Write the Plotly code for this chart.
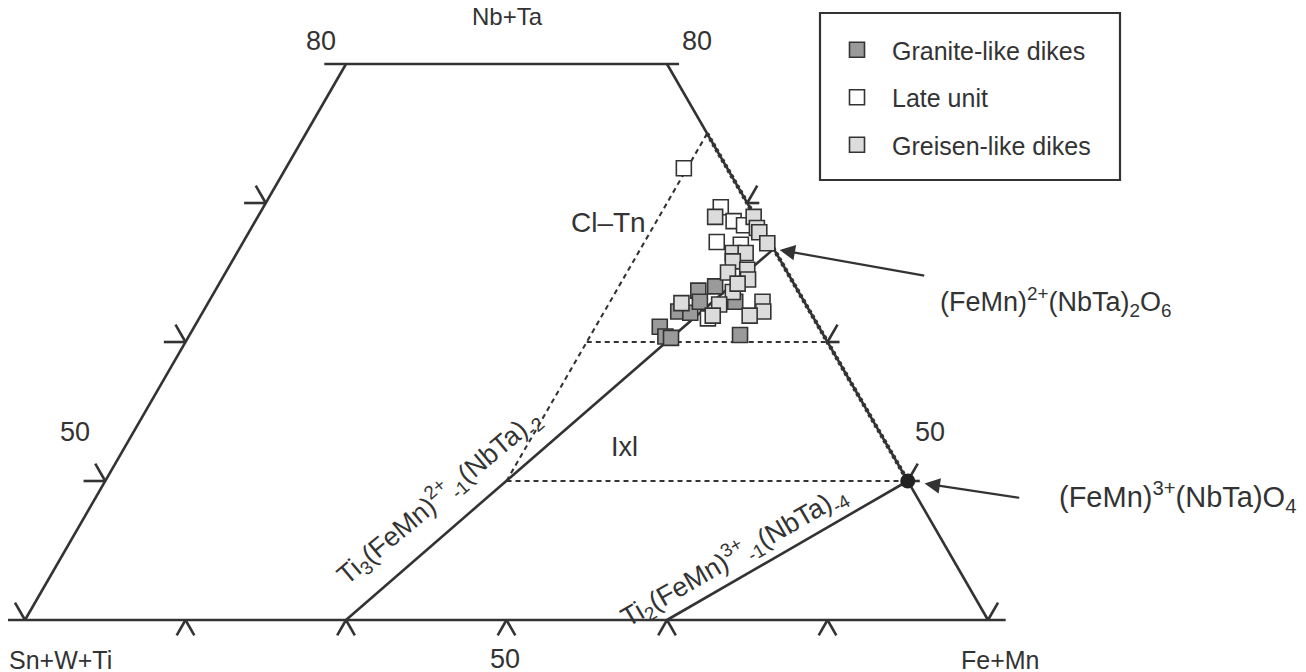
import numpy as np
import plotly.graph_objects as go

# ---------------- data ----------------
# ternary compositions (atomic %): Nb+Ta, Fe+Mn, Sn+W+Ti ; diagram shows Nb+Ta 40..80
series_names = ["Granite-like dikes", "Late unit", "Greisen-like dikes"]

granite_nbta = [63.7, 64.0, 62.9, 62.2, 62.1, 62.9, 61.1, 60.4, 60.3, 60.5]
granite_femn = [30.1, 31.0, 32.8, 29.6, 30.4, 30.6, 29.0, 29.7, 30.1, 34.3]
granite_snwti = [6.2, 5.0, 4.3, 8.2, 7.5, 6.5, 9.9, 9.9, 9.6, 5.2]

late_nbta = [72.5, 69.7, 68.7, 67.2, 68.4, 67.0, 61.7]
late_femn = [24.8, 28.5, 29.8, 29.5, 30.6, 31.1, 31.7]
late_snwti = [2.7, 1.8, 1.5, 3.3, 1.0, 1.9, 6.6]

greisen_nbta = [69.0, 69.0, 68.2, 67.9, 67.1, 66.4, 66.4, 65.8, 65.2, 65.0,
                63.6, 62.7, 61.9, 62.8, 62.9, 62.2, 61.9, 64.5, 64.2]
greisen_femn = [28.5, 30.9, 31.5, 31.8, 32.7, 30.9, 31.7, 31.2, 32.4, 31.3,
                32.3, 31.9, 31.9, 29.5, 34.5, 34.9, 34.2, 32.8, 32.3]
greisen_snwti = [2.5, 0.1, 0.3, 0.3, 0.2, 2.7, 1.9, 3.0, 2.4, 3.7,
                 4.1, 5.4, 6.2, 7.7, 2.6, 2.9, 3.9, 2.7, 3.5]

# end-member compositions (Nb+Ta, Fe+Mn, Sn+W+Ti)
columbite = (66.7, 33.3, 0.0)          # (FeMn)2+(NbTa)2O6
fe3_phase = (50.0, 50.0, 0.0)          # (FeMn)3+(NbTa)O4
ti3_start = (40.0, 20.0, 40.0)         # Ti3(FeMn)-1(NbTa)-2 vector, base
ti2_start = (40.0, 40.0, 20.0)         # Ti2(FeMn)-1(NbTa)-4 vector, base

# field boundaries (dashed)
cltn_line = [(50.0, 25.0, 25.0), (75.0, 25.0, 0.0)]
nbta60_line = [(60.0, 25.0, 15.0), (60.0, 40.0, 0.0)]
nbta50_line = [(50.0, 25.0, 25.0), (50.0, 50.0, 0.0)]
edge_field_line = [(75.0, 25.0, 0.0), (50.0, 50.0, 0.0)]

# diagram range and ticks
NBTA_MIN, NBTA_MAX = 40.0, 80.0
side_ticks = [40, 50, 60, 70, 80]
bottom_ticks = [10, 20, 30, 40, 50]

# ---------------- helpers ----------------
SPAN = 100.0 - NBTA_MIN
H = np.sqrt(3) / 2


def to_xy(a, b):
    ap = (np.asarray(a, float) - NBTA_MIN) / SPAN
    bp = np.asarray(b, float) / SPAN
    return bp + ap / 2, ap * H


def segs(seg_list):
    xs, ys = [], []
    for (a1, b1), (a2, b2) in seg_list:
        x, y = to_xy([a1, a2], [b1, b2])
        xs += list(x) + [None]
        ys += list(y) + [None]
    return xs, ys


LINE = "#333333"
TL_H, TR_H, T_DIAG, T_BOT = 1.35, 0.75, 1.25, 1.1

frame = []
top_b_right = 100 - NBTA_MAX
frame.append(((NBTA_MIN, -T_BOT), (NBTA_MIN, SPAN + T_BOT)))   # base line
frame.append(((NBTA_MIN, 0), (NBTA_MAX, 0)))                    # left edge
frame.append(((NBTA_MIN, SPAN), (NBTA_MAX, top_b_right)))       # right edge
frame.append(((NBTA_MAX, -TL_H), (NBTA_MAX, top_b_right + TR_H)))  # top edge
for A in side_ticks:
    if NBTA_MIN < A < NBTA_MAX:
        frame.append(((A, 0), (A, -TL_H)))
        frame.append(((A, 100 - A), (A, 100 - A + TR_H)))
    if A < NBTA_MAX:
        frame.append(((A, 0), (A + T_DIAG, -T_DIAG)))
        frame.append(((A, 100 - A), (A + T_DIAG, 100 - A)))
for B in bottom_ticks:
    frame.append(((NBTA_MIN, B), (NBTA_MIN - T_BOT, B)))
    frame.append(((NBTA_MIN, B), (NBTA_MIN - T_BOT, B + T_BOT)))

fig = go.Figure()

# dashed field boundaries
dx, dy = segs([((p[0][0], p[0][1]), (p[1][0], p[1][1]))
               for p in (cltn_line, nbta60_line, nbta50_line)])
fig.add_trace(go.Scatter(x=dx, y=dy, mode="lines", showlegend=False, hoverinfo="skip",
                         line=dict(color=LINE, width=2.1, dash="5px,4px")))
ex, ey = segs([((edge_field_line[0][0], edge_field_line[0][1]),
                (edge_field_line[1][0], edge_field_line[1][1]))])
fig.add_trace(go.Scatter(x=ex, y=ey, mode="lines", showlegend=False, hoverinfo="skip",
                         line=dict(color=LINE, width=4.2, dash="3px,3px")))

# frame with ticks
fx, fy = segs(frame)
fig.add_trace(go.Scatter(x=fx, y=fy, mode="lines", showlegend=False, hoverinfo="skip",
                         line=dict(color=LINE, width=2.6)))

# substitution vectors
vx, vy = segs([((ti3_start[0], ti3_start[1]), (columbite[0], columbite[1])),
               ((ti2_start[0], ti2_start[1]), (fe3_phase[0], fe3_phase[1]))])
fig.add_trace(go.Scatter(x=vx, y=vy, mode="lines", showlegend=False, hoverinfo="skip",
                         line=dict(color=LINE, width=2.6)))

# (FeMn)3+(NbTa)O4 point
px_, py_ = to_xy([fe3_phase[0]], [fe3_phase[1]])
fig.add_trace(go.Scatter(x=px_, y=py_, mode="markers", showlegend=False, hoverinfo="skip",
                         marker=dict(symbol="circle", size=15, color="#222222")))

# samples
sample_sets = [
    ("Late unit", late_nbta, late_femn, late_snwti, "#ffffff", 2),
    ("Granite-like dikes", granite_nbta, granite_femn, granite_snwti, "#9a9a9a", 1),
    ("Greisen-like dikes", greisen_nbta, greisen_femn, greisen_snwti, "#dcdcdc", 3),
]
for name, a, b, c, col, rank in sample_sets:
    x, y = to_xy(a, b)
    fig.add_trace(go.Scatter(
        x=x, y=y, mode="markers", name=name, legendrank=rank, legendgroup=name,
        customdata=np.stack([a, b, c], axis=1),
        hovertemplate="Nb+Ta %{customdata[0]}<br>Fe+Mn %{customdata[1]}<br>Sn+W+Ti %{customdata[2]}<extra>" + name + "</extra>",
        marker=dict(symbol="square", size=15, color=col, line=dict(color=LINE, width=1.6))))

FONT = "Liberation Sans, Arial, sans-serif"
OFF = 8                      # page body margin in the browser
W, HH = 1306 - OFF, 672 - OFF


def X(px):
    return (px - OFF) / W


def Y(py):
    return 1 - (py - OFF) / HH


def ann(text, px, py, size=27, angle=0):
    return dict(text=text, x=X(px), y=Y(py), xref="paper", yref="paper",
                showarrow=False, textangle=angle, xanchor="center", yanchor="middle",
                font=dict(family=FONT, size=size, color="#333333"))


annotations = [
    ann("Nb+Ta", 507, 17, size=24),
    ann("80", 321, 41), ann("80", 697, 41),
    ann("50", 75, 432), ann("50", 930, 432), ann("50", 505, 659),
    ann("Sn+W+Ti", 61, 660, size=25), ann("Fe+Mn", 1000, 660, size=25),
    ann("Cl–Tn", 608, 222, size=28), ann("Ixl", 624, 447),
    ann("(FeMn)<sup>2+</sup>(NbTa)<sub>2</sub>O<sub>6</sub>", 1056, 302, size=27),
    ann("(FeMn)<sup>3+</sup>(NbTa)O<sub>4</sub>", 1177, 497, size=29),
    ann("Ti<sub>3</sub>(FeMn)<sup>2+</sup><sub>-1</sub>(NbTa)<sub>-2</sub>", 438, 497, angle=-40),
    ann("Ti<sub>2</sub>(FeMn)<sup>3+</sup><sub>-1</sub>(NbTa)<sub>-4</sub>", 733, 556, angle=-30),
]
cx, cy = to_xy([columbite[0]], [columbite[1]])
annotations.append(dict(x=float(cx[0]), y=float(cy[0]), xref="x", yref="y", text="",
                        showarrow=True, ax=152, ay=27, arrowhead=2, arrowsize=1.4,
                        arrowwidth=2.2, arrowcolor=LINE, standoff=6))
annotations.append(dict(x=float(px_[0]), y=float(py_[0]), xref="x", yref="y", text="",
                        showarrow=True, ax=113, ay=17, arrowhead=2, arrowsize=1.4,
                        arrowwidth=2.2, arrowcolor=LINE, standoff=17))

PXU = 963.0
X0, Y0 = 25 - OFF, 620 - OFF   # pixel position of Sn+W+Ti corner
fig.update_layout(
    width=W, height=HH, margin=dict(l=0, r=0, t=0, b=0),
    paper_bgcolor="white", plot_bgcolor="white",
    xaxis=dict(range=[-X0 / PXU, (W - X0) / PXU], visible=False, fixedrange=True),
    yaxis=dict(range=[-(HH - Y0) / PXU, Y0 / PXU], visible=False, fixedrange=True),
    annotations=annotations,
    font=dict(family=FONT, color="#333333"),
    shapes=[dict(type="rect", xref="paper", yref="paper",
                 x0=X(820), x1=X(1120), y0=Y(180), y1=Y(13),
                 line=dict(color=LINE, width=2.2), fillcolor="rgba(0,0,0,0)")],
    legend=dict(x=X(822), y=Y(27), xanchor="left", yanchor="top",
                borderwidth=0, bgcolor="rgba(0,0,0,0)",
                font=dict(family=FONT, size=25, color="#333333"),
                itemwidth=60, tracegroupgap=12, itemsizing="trace"),
)

fig.write_html("out.html")
